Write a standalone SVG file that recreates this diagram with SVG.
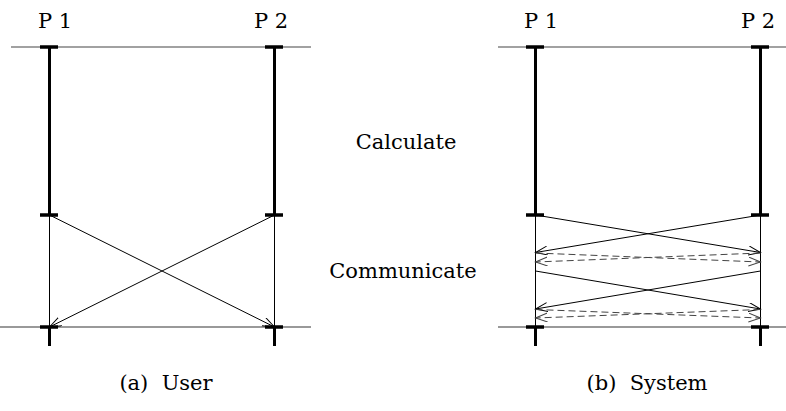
<svg xmlns="http://www.w3.org/2000/svg" width="786" height="411" viewBox="0 0 786 411">
<defs>
<style>
.lbl{font-family:'DejaVu Serif','Liberation Serif',serif;font-size:21px;text-anchor:middle;fill:#000}
.axis{stroke:#444;stroke-width:1.2;fill:none}
.axis2{stroke:#777;stroke-width:1.5;fill:none}
.bar{stroke:#000;stroke-width:3;fill:none}
.tick{stroke:#000;stroke-width:3.5;fill:none}
.thin{stroke:#000;stroke-width:1;fill:none}
.msg{stroke:#000;stroke-width:1;fill:none;marker-end:url(#ah)}
.dmsg{stroke:#444;stroke-width:1;fill:none;stroke-dasharray:7,4;marker-end:url(#ahd)}
</style>
<marker id="ah" markerUnits="userSpaceOnUse" markerWidth="14" markerHeight="10" refX="12" refY="4.5" orient="auto">
<path d="M0,0 L12,4.5 L0,9" fill="none" stroke="#000" stroke-width="1"/>
</marker>
<marker id="ahd" markerUnits="userSpaceOnUse" markerWidth="14" markerHeight="10" refX="12" refY="4.5" orient="auto">
<path d="M0,0 L12,4.5 L0,9" fill="none" stroke="#444" stroke-width="1"/>
</marker>
</defs>
<rect width="786" height="411" fill="#fff"/>

<g id="panel-a">
<line class="axis" x1="11" y1="47" x2="311" y2="47"/>
<line class="axis2" x1="0" y1="327" x2="311" y2="327"/>
<g id="a-p1">
<text class="lbl" x="55" y="28">P 1</text>
<line class="bar" x1="49.5" y1="47" x2="49.5" y2="215"/>
<line class="tick" x1="40" y1="47" x2="58" y2="47"/>
<line class="tick" x1="40" y1="215" x2="58" y2="215"/>
<line class="thin" x1="49.5" y1="215" x2="49.5" y2="327"/>
<line class="tick" x1="40" y1="327" x2="58" y2="327"/>
<line class="bar" x1="49.5" y1="327" x2="49.5" y2="346"/>
</g>
<g id="a-p2">
<text class="lbl" x="271" y="28">P 2</text>
<line class="bar" x1="274.5" y1="47" x2="274.5" y2="215"/>
<line class="tick" x1="265" y1="47" x2="283" y2="47"/>
<line class="tick" x1="265" y1="215" x2="283" y2="215"/>
<line class="thin" x1="274.5" y1="215" x2="274.5" y2="327"/>
<line class="tick" x1="265" y1="327" x2="283" y2="327"/>
<line class="bar" x1="274.5" y1="327" x2="274.5" y2="346"/>
</g>
<text id="cap-a" class="lbl" x="166" y="390">(a)&#160; User</text>
</g>

<g id="panel-b">
<line class="axis" x1="498" y1="47" x2="786" y2="47"/>
<line class="axis2" x1="498" y1="327" x2="786" y2="327"/>
<g id="b-p1">
<text class="lbl" x="541" y="28">P 1</text>
<line class="bar" x1="535.5" y1="47" x2="535.5" y2="215"/>
<line class="tick" x1="526" y1="47" x2="544" y2="47"/>
<line class="tick" x1="526" y1="215" x2="544" y2="215"/>
<line class="thin" x1="535.5" y1="215" x2="535.5" y2="327"/>
<line class="tick" x1="526" y1="327" x2="544" y2="327"/>
<line class="bar" x1="535.5" y1="327" x2="535.5" y2="346"/>
</g>
<g id="b-p2">
<text class="lbl" x="758" y="28">P 2</text>
<line class="bar" x1="760.5" y1="47" x2="760.5" y2="215"/>
<line class="tick" x1="751" y1="47" x2="769" y2="47"/>
<line class="tick" x1="751" y1="215" x2="769" y2="215"/>
<line class="thin" x1="760.5" y1="215" x2="760.5" y2="327" stroke="#555"/>
<line class="tick" x1="751" y1="327" x2="769" y2="327"/>
<line class="bar" x1="760.5" y1="327" x2="760.5" y2="346"/>
</g>
<text id="cap-b" class="lbl" x="647" y="390">(b)&#160; System</text>
</g>

<text id="calc" class="lbl" x="406" y="149">Calculate</text>
<text id="comm" class="lbl" x="403" y="278">Communicate</text>

<g id="connectors">
<line class="msg" x1="49.5" y1="215" x2="274.5" y2="327"/>
<line class="msg" x1="274.5" y1="215" x2="49.5" y2="327"/>

<line class="msg" x1="535.5" y1="215" x2="760.5" y2="252.5"/>
<line class="msg" x1="760.5" y1="215" x2="535.5" y2="252.5"/>
<line class="dmsg" x1="535.5" y1="253" x2="760.5" y2="262"/>
<line class="dmsg" x1="760.5" y1="253" x2="535.5" y2="262"/>

<line class="msg" x1="535.5" y1="271" x2="760.5" y2="309"/>
<line class="msg" x1="760.5" y1="271" x2="535.5" y2="309"/>
<line class="dmsg" x1="535.5" y1="309.5" x2="760.5" y2="318"/>
<line class="dmsg" x1="760.5" y1="309.5" x2="535.5" y2="318"/>
</g>
</svg>
